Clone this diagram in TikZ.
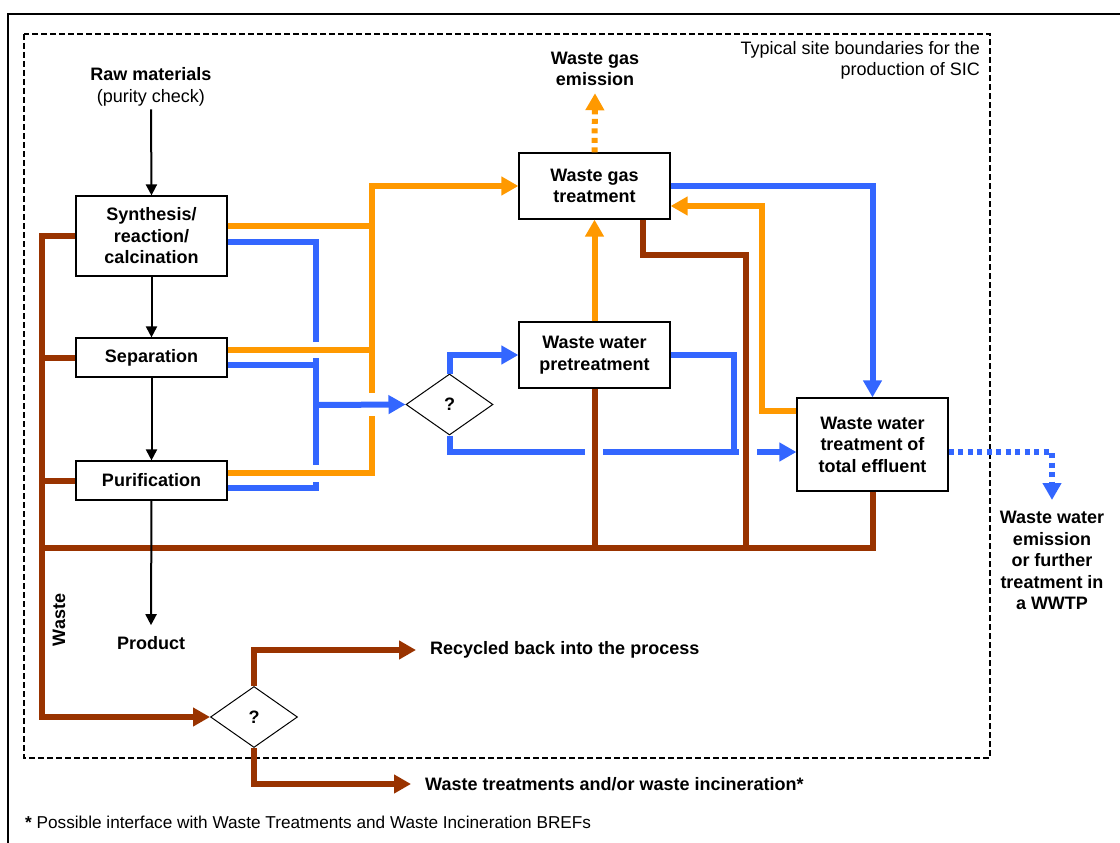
\documentclass[tikz,border=0pt]{standalone}
\usepackage{fontspec}
\setmainfont{Liberation Sans}
\usetikzlibrary{arrows.meta,shapes.geometric}
\definecolor{gasorange}{HTML}{FF9900}
\definecolor{waterblue}{HTML}{3366FF}
\definecolor{wastebrown}{HTML}{993300}
\newcommand{\flowfont}{\fontsize{18pt}{21.5pt}\selectfont}
\newcommand{\notefont}{\fontsize{17.2pt}{20pt}\selectfont}

\begin{document}
\begin{tikzpicture}[x=1pt,y=-1pt,font=\flowfont,
  stage/.style={draw,line width=1.2pt,minimum width=151pt,align=center,font=\flowfont\bfseries,inner sep=2pt},
  check/.style={diamond,draw,line width=1pt,minimum width=87pt,minimum height=61pt,inner sep=0pt,font=\flowfont\bfseries},
  lbl/.style={inner sep=3pt,align=center},
  boldlbl/.style={lbl,font=\flowfont\bfseries},
  endlbl/.style={boldlbl,anchor=west,inner xsep=14pt},
  gasline/.style={draw=gasorange,line width=6pt},
  waterline/.style={draw=waterblue,line width=6pt},
  wasteline/.style={draw=wastebrown,line width=6pt},
  fat/.style={-{Triangle[length=17pt,width=18pt]}},
  mainflow/.style={line width=2pt,-{Triangle[length=11pt,width=11pt]}},
  dotline/.style={dash pattern=on 5pt off 4.5pt},
  blank/.style={draw=white,line width=10pt}]
\useasboundingbox (0,0) rectangle (1120,843);

% Frame and site boundary
\draw[line width=1.6pt] (8,860) -- (8,14) -- (1130,14);
\draw[line width=1.3pt,dash pattern=on 6pt off 3pt] (24,34) rectangle (990,758);
\node[lbl,align=right,anchor=north east] (site) at (983,38) {Typical site boundaries for the\\production of SIC};

% Process steps
\node[lbl] (raw) at (151,87) {\textbf{Raw materials}\\(purity check)};
\node[stage,minimum height=80pt] (syn) at (151.5,236) {Synthesis/\\reaction/\\calcination};
\node[stage,minimum height=39pt] (sep) at (151.5,357.5) {Separation};
\node[stage,minimum height=39pt] (pur) at (151.5,480.5) {Purification};
\node[boldlbl] (prod) at (151,643) {Product};

% Treatment units
\node[stage,minimum height=66pt] (wgt) at (594.5,186) {Waste gas\\treatment};
\node[stage,minimum height=66pt] (wwp) at (594.5,355) {Waste water\\pretreatment};
\node[stage,minimum height=93pt] (wwt) at (872.5,444.5) {Waste water\\treatment of\\total effluent};
\node[check] (q1) at (449.5,404.5) {?};
\node[check] (q2) at (254,717) {?};

% Outputs
\node[boldlbl] (wge) at (595,69) {Waste gas\\emission};
\node[boldlbl,anchor=north] (wwe) at (1052,508) {Waste water\\emission\\or further\\treatment in\\a WWTP};
\node[endlbl] (rec) at (416,650) {Recycled back into the process};
\node[endlbl] (inc) at (411,784) {Waste treatments and/or waste incineration*};
\node[boldlbl,rotate=90] (wastetag) at (59,620) {Waste};
\node[lbl,anchor=west,font=\notefont] (note) at (22,822) {\textbf{*} Possible interface with Waste Treatments and Waste Incineration BREFs};

\coordinate (gasjoin) at (372,186);
\coordinate (bluejoin) at (316,405);
\coordinate (pretjoin) at (734,452);
\coordinate (trunkend) at (42,717);
\coordinate (wastejoin) at (42,548);
\coordinate (gasdrain) at (746,548);

% Waste water
\draw[waterline] ([yshift=-5.5pt]syn.east) -| (bluejoin);
\draw[waterline] ([yshift=-7.5pt]sep.east) -| (bluejoin);
\draw[waterline] ([yshift=-7.5pt]pur.east) -| (bluejoin);
\draw[waterline,fat] (q1.south) |- ([yshift=-7.5pt]wwt.west);
\draw[waterline] (wwp.east) -| (pretjoin);
\draw[blank] (316,342) -- (316,358);
\draw[blank] (316,465) -- (316,482);
\draw[blank] (585,452) -- (603,452);
\draw[blank] (739,452) -- (757,452);

% Waste gas
\draw[gasline,fat] ([yshift=7.5pt]pur.east) -| (gasjoin) -- (wgt.west);
\draw[gasline] ([yshift=10pt]syn.east) -| (gasjoin);
\draw[gasline] ([yshift=7.5pt]sep.east) -| (gasjoin);
\draw[blank] (372,393) -- (372,416);
\draw[waterline,fat] (bluejoin) -- (q1.west);
\draw[gasline,fat] (wwp.north) -- (wgt.south);
\draw[gasline,fat] ([yshift=33.5pt]wwt.west) -- ++(-34,0) |- ([yshift=-20pt]wgt.east);
\draw[gasline,dotline,fat] (wgt.north) -- ([yshift=-4pt]wge.south);

\draw[waterline,fat] (q1.north) |- (wwp.west);
\draw[waterline,fat] (wgt.east) -| (wwt.north);
\draw[waterline,dotline,fat] ([yshift=-7.5pt]wwt.east) -| ([yshift=8pt]wwe.north);

% Waste
\draw[wasteline,fat] (syn.west) -| (trunkend) -- (q2.west);
\draw[wasteline] (sep.west) -- (sep.west -| wastejoin);
\draw[wasteline] (pur.west) -- (pur.west -| wastejoin);
\draw[wasteline] (wwt.south) |- (wastejoin);
\draw[wasteline] (wwp.south) -- (wwp.south |- wastejoin);
\draw[wasteline] ([xshift=48.5pt]wgt.south) -- ++(0,35) -| (gasdrain);
\draw[wasteline,fat] (q2.north) |- (rec.west);
\draw[wasteline,fat] (q2.south) |- (inc.west);

% Main line
\draw[mainflow] (raw.south) -- (syn.north);
\draw[mainflow] (syn.south) -- (sep.north);
\draw[mainflow] (sep.south) -- (pur.north);
\draw[mainflow] (pur.south) -- ([yshift=8pt]prod.north);
\end{tikzpicture}
\end{document}
